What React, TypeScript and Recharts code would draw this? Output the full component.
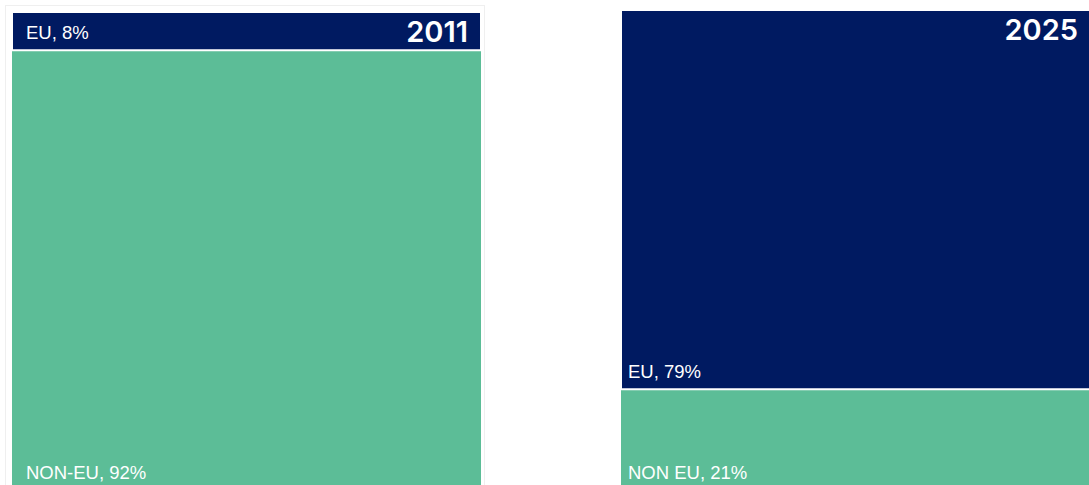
import React from 'react';
import { BarChart, Bar, XAxis, YAxis, LabelList } from 'recharts';

const years = ['2011', '2025'];
const euShare = [8, 79];
const nonEuShare = [92, 21];
const euLabels = ['EU, 8%', 'EU, 79%'];
const nonEuLabels = ['NON-EU, 92%', 'NON EU, 21%'];

const NAVY = '#001a61';
const GREEN = '#5cbd97';

// panel boxes (position only)
const panels = [
  { left: 12, top: 12, width: 469, height: 478, inset: 14 },
  { left: 621, top: 10, width: 470, height: 480, inset: 7 },
];

const labelFont = '"Liberation Sans", Arial, sans-serif';

const bottomLeft = (inset: number) => (props: any) => {
  const { x, y, height, value } = props;
  return (
    <text
      x={x + inset}
      y={y + height - 11}
      fill="#fff"
      fontSize={18.5}
      fontFamily={labelFont}
    >
      {value}
    </text>
  );
};

const yearLabel = (props: any) => {
  const { x, y, width, value } = props;
  return (
    <text
      x={x + width - 13}
      y={y + 30}
      fill="#fff"
      fontSize={29}
      fontWeight={600}
      textAnchor="end"
      fontFamily="Inter, sans-serif"
    >
      {value}
    </text>
  );
};

export default function App() {
  return (
    <div style={{ position: 'absolute', left: 0, top: 0, width: 1089, height: 485, overflow: 'hidden', background: '#fff' }}>
      <div style={{ position: 'absolute', left: 5, top: 5, width: 478, height: 490, border: '1px solid #efefef' }} />
      {years.map((year, i) => {
        const p = panels[i];
        const data = [{ year, eu: euShare[i], nonEu: nonEuShare[i], euLabel: euLabels[i], nonEuLabel: nonEuLabels[i] }];
        return (
          <div key={year} style={{ position: 'absolute', left: p.left, top: p.top }}>
            <BarChart
              width={p.width}
              height={p.height}
              data={data}
              margin={{ top: 0, right: 0, bottom: 0, left: 0 }}
              barCategoryGap={0}
            >
              <XAxis dataKey="year" hide />
              <YAxis hide domain={[0, 100]} />
              <Bar dataKey="nonEu" stackId="a" fill={GREEN} isAnimationActive={false}>
                <LabelList dataKey="nonEuLabel" content={bottomLeft(p.inset)} />
              </Bar>
              <Bar dataKey="eu" stackId="a" fill={NAVY} stroke="#fff" strokeWidth={2} isAnimationActive={false}>
                <LabelList dataKey="euLabel" content={bottomLeft(p.inset)} />
                <LabelList dataKey="year" content={yearLabel} />
              </Bar>
            </BarChart>
          </div>
        );
      })}
    </div>
  );
}
